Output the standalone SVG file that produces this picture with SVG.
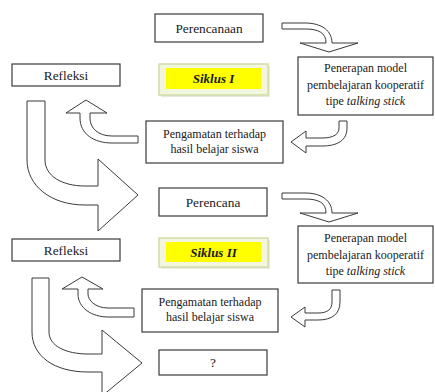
<svg xmlns="http://www.w3.org/2000/svg" width="435" height="392" viewBox="0 0 435 392">
<style>
.box{fill:#fff;stroke:#3a3a3a;stroke-width:1.2}
.arr{fill:#fff;stroke:#3a3a3a;stroke-width:1}
.t{font-family:"Liberation Serif","Times New Roman",serif;fill:#1a1a1a;text-anchor:middle}
.s{font-size:13.3px}
.m{font-size:12px}
.sk{font-family:"Liberation Serif","Times New Roman",serif;font-size:13px;font-weight:bold;font-style:italic;fill:#1a1a1a;text-anchor:middle}
.glow{fill:#f1f6dc;stroke:#cfdcab;stroke-width:1.5}
.yel{fill:#ffff00;stroke:none}
</style>
<rect width="435" height="392" fill="#fff"/>
<g id="connectors">
<path class="arr" d="M282,23 L305,23 C322,23 332,31 332,43 L358,43 L329,52 L300,43 L326,43 C326,33 319,29 305,29 L282,29 Z"/>
<path class="arr" d="M339,121 L347,121 L347,128 C347,140 338,146 322,146 L306,146 L306,153 L291,142 L306,131 L306,138 L322,138 C334,138 339,134 339,128 Z"/>
<path class="arr" d="M138,136 L112,136 C98,136 90,128 90,118 L90,113 L107,113 L86,100 L66,113 L80,113 L80,118 C80,134 94,143 112,143 L138,143 Z"/>
<path class="arr" d="M27,101 L45,101 L45,160 C45,176 62,186 85,186 L98,186 L98,159 L138,195 L98,231 L98,205 L85,205 C50,205 27,185 27,160 Z"/>
<path class="arr" d="M282,193 L305,193 C322,193 332,201 332,213 L358,213 L329,222 L300,213 L326,213 C326,203 319,199 305,199 L282,199 Z"/>
<path class="arr" d="M332,290 L340,290 L340,302 C340,314 332,320 318,320 L305,320 L305,327 L291,317 L305,307 L305,313 L318,313 C328,313 332,309 332,302 Z"/>
<path class="arr" d="M134,308 L108,308 C95,308 88,300 88,294 L88,289 L103,289 L82,277 L62,289 L78,289 L78,294 C78,308 92,317 108,317 L134,317 Z"/>
<path class="arr" d="M32,278 L49,278 L49,332 C49,346 66,354 88,354 L102,354 L102,330 L142,363 L102,396 L102,372 L88,372 C54,372 32,356 32,332 Z"/>
</g>
<g id="perencanaan"><rect class="box" x="155" y="14" width="108" height="28"/><text class="t s" x="209" y="32.5">Perencanaan</text></g>
<g id="refleksi1"><rect class="box" x="12" y="64" width="108" height="22"/><text class="t s" x="66" y="79.5">Refleksi</text></g>
<g id="siklus1"><rect x="161" y="66" width="109" height="31" fill="#d8dcc8" opacity="0.6"/><rect class="glow" x="159" y="64" width="109" height="31"/><rect class="yel" x="166" y="68" width="95" height="21"/><text class="sk" x="213.5" y="82.5">Siklus I</text></g>
<g id="penerapan1"><rect class="box" x="298" y="57" width="135" height="58"/><text class="t m" x="365.5" y="72">Penerapan model</text><text class="t m" x="365.5" y="88.5">pembelajaran kooperatif</text><text class="t m" x="365.5" y="105">tipe <tspan font-style="italic">talking stick</tspan></text></g>
<g id="pengamatan1"><rect class="box" x="146" y="121" width="137" height="42"/><text class="t m" x="214.5" y="137.5">Pengamatan terhadap</text><text class="t m" x="214.5" y="152.5">hasil belajar siswa</text></g>
<g id="perencana"><rect class="box" x="159" y="188" width="108" height="28"/><text class="t s" x="213" y="206.5">Perencana</text></g>
<g id="refleksi2"><rect class="box" x="12" y="239" width="108" height="22"/><text class="t s" x="66" y="254.5">Refleksi</text></g>
<g id="siklus2"><rect x="161" y="240" width="109" height="29" fill="#d8dcc8" opacity="0.6"/><rect class="glow" x="159" y="238" width="109" height="29"/><rect class="yel" x="166" y="242" width="95" height="20"/><text class="sk" x="213.5" y="256.5">Siklus II</text></g>
<g id="penerapan2"><rect class="box" x="298" y="226" width="135" height="57"/><text class="t m" x="365.5" y="242">Penerapan model</text><text class="t m" x="365.5" y="258.5">pembelajaran kooperatif</text><text class="t m" x="365.5" y="274.5">tipe <tspan font-style="italic">talking stick</tspan></text></g>
<g id="pengamatan2"><rect class="box" x="142" y="289" width="136" height="43"/><text class="t m" x="210" y="306">Pengamatan terhadap</text><text class="t m" x="210" y="321">hasil belajar siswa</text></g>
<g id="unknown"><rect class="box" x="159" y="350" width="108" height="25"/><text class="t s" x="213" y="367">?</text></g>
</svg>
